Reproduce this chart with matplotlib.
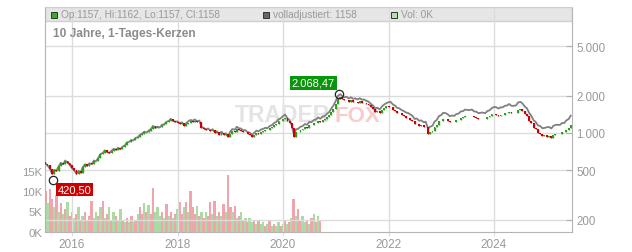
import matplotlib
matplotlib.use("Agg")
import matplotlib.pyplot as plt
import matplotlib.dates as mdates
from matplotlib.patches import Rectangle
from matplotlib.ticker import FixedLocator, FuncFormatter, NullLocator
import numpy as np
import pandas as pd

plt.rcParams['font.family'] = ['Liberation Sans', 'DejaVu Sans']

# semi-monthly closes (1st / 15th)
close_2015 = [565, 548, 515, 470, 505, 495, 540, 575, 560, 600, 575, 555]
close_2016 = [520, 500, 470, 495, 480, 530, 560, 545, 570, 560, 600, 590,
              630, 675, 690, 725, 700, 690, 720, 745, 735, 760, 740, 775]
close_2017 = [795, 840, 850, 880, 870, 910, 925, 965, 990, 1025, 1010, 1045,
              1080, 1140, 1100, 1125, 1110, 1165, 1175, 1230, 1250, 1300, 1255, 1235]
close_2018 = [1215, 1180, 1195, 1130, 1175, 1215, 1250, 1230, 1260, 1220, 1235, 1100,
              1080, 1050, 1065, 1030, 1050, 1000, 1010, 970, 1005, 960, 975, 920]
close_2019 = [985, 1035, 1020, 1080, 1050, 1045, 1010, 1015, 975, 970, 930, 965,
              1005, 990, 1025, 1035, 1060, 1050, 1095, 1110, 1160, 1180, 1240, 1260]
close_2020 = [1290, 1330, 1240, 1200, 1090, 930, 1010, 1020, 1060, 1070, 1115, 1100,
              1160, 1150, 1200, 1210, 1260, 1230, 1280, 1290, 1350, 1390, 1490, 1570]
close_2021 = [1720, 1880, 1940, 1870, 1830, 1850, 1790, 1830, 1780, 1790, 1760, 1800,
              1750, 1760, 1710, 1690, 1620, 1570, 1490, 1510, 1460, 1540, 1600, 1640]
close_2022 = [1610, 1620, 1540, 1510, 1450, 1440, 1390, 1370, 1330, 1320, 1280, 1250,
              1180, 1190, 1140, 1150, 1110, 1120, 990, 1020, 1040, 1120, 1160, 1240]
close_2023 = [1250, 1300, 1290, 1260, 1220, 1235, 1225, 1270, 1280, 1330, 1340, 1380,
              1370, 1365, 1380, 1335, 1325, 1290, 1300, 1305, 1290, 1340, 1360, 1410]
close_2024 = [1410, 1405, 1370, 1400, 1400, 1440, 1450, 1490, 1440, 1440, 1450, 1530,
              1550, 1510, 1420, 1380, 1260, 1200, 1100, 1070, 1000, 990, 950, 955]
close_2025 = [935, 940, 915, 960, 975, 980, 975, 1010, 1010, 1060, 1090, 1158]

first_open = 580

# yearly factor of the fully adjusted ("volladjustiert") line
adj_years = [2015, 2016, 2017, 2018, 2019, 2020, 2021, 2022, 2023, 2024, 2025]
adj_factor = [1.00, 1.00, 1.00, 1.02, 1.04, 1.06, 1.06, 1.10, 1.12, 1.15, 1.19]

# volume in thousands, semi-monthly, until Sep 2020
vol_k = [10, 7, 10.5, 8, 6, 9, 5, 7, 4.5, 5.5,
         7.3, 4, 5, 3.5, 4.5, 6, 3, 4, 5, 3,
         4, 7.5, 3.5, 5, 4, 6, 7.5, 3.5, 4.5, 6,
         3, 5, 4, 3, 5.5, 3, 2.5, 3.5, 2.5, 4,
         2.5, 3, 4.5, 6, 4.5, 7, 5, 6.5, 4.5, 10.7,
         5, 6, 4, 5, 3.5, 6.8, 4, 5, 3.5, 4.5,
         5.5, 7.3, 4.5, 6, 7.3, 5, 10, 6, 4.5, 6.3,
         4, 5, 3.5, 5, 4, 7.3, 4.5, 7.5, 4, 5,
         4, 6.8, 5, 14, 6, 5, 6.3, 3.5, 4, 5,
         3, 3.5, 2.5, 3.5, 2.5, 3, 2, 3, 2, 2.5,
         1.5, 2, 3, 1.5, 2, 1.5, 2.5, 1.5, 2, 3,
         2, 2.5, 3.5, 8, 4, 5.5, 3, 4, 2.5, 3,
         2, 3.5, 4.5, 2.5, 4, 3]
vol_side = ("rgrrgrgrgr" "grrgrgrgrg" "rrggrgrgrg" "rgrggrgrgr" "grgrrgrgrr"
            "gggrgrgrgr" "grrgrgrrrg" "rgrgrrgrgr" "grgrrgrgrg" "rgrggrgrgg"
            "rgrgrggrgr" "grgrgrrggr" "grgrgr")

low_date, low_value = "2015-08-24", 420.50
high_date, high_value = "2021-01-25", 2068.47

years = [2016, 2018, 2020, 2022, 2024]
price_ticks = [200, 500, 1000, 2000, 5000]
vol_ticks = [0, 5, 10, 15]

closes = np.array(close_2015 + close_2016 + close_2017 + close_2018 + close_2019 + close_2020
                  + close_2021 + close_2022 + close_2023 + close_2024 + close_2025, dtype=float)
dates = pd.date_range("2015-07-01", periods=len(closes), freq="SMS")
xs = mdates.date2num(dates.to_pydatetime())
opens = np.concatenate([[first_open], closes[:-1]])
up = closes >= opens
factor = dict(zip(adj_years, adj_factor))
adjusted = closes * np.array([factor[d.year] for d in dates])

GREEN = "#2f9e1f"
RED = "#cc0000"
TXT = "#999999"

W, H = 632, 253


def px(x, y):
    return x / W, 1 - y / H


fig = plt.figure(figsize=(W / 100, H / 100), dpi=100)
pos = [45 / W, 20 / H, 527 / W, 225 / H]
axv = fig.add_axes(pos)
ax = fig.add_axes(pos, sharex=axv)
ax.patch.set_alpha(0)

# volume
vx = xs[:len(vol_k)]
vcol = ["#f0a4ac" if s == "r" else "#aadba2" for s in vol_side[:len(vol_k)]]
axv.bar(vx, np.array(vol_k) * 1000, width=17, color=vcol, linewidth=0, align="center")
axv.set_ylim(0, 15000 * 225 / 61.5)
axv.set_yticks([v * 1000 for v in vol_ticks])
axv.set_yticklabels([f"{v}K" for v in vol_ticks])
axv.tick_params(axis="y", length=0, labelcolor=TXT, labelsize=8.2, pad=2)
axv.tick_params(axis="x", bottom=False, labelbottom=False)
for s in axv.spines.values():
    s.set_visible(False)

# legend bar at top of plot
axv.add_patch(Rectangle((0, 1 - 14 / 225), 1, 14 / 225, transform=axv.transAxes,
                        fc="#e6e6e6", ec="#cfcfcf", lw=1, zorder=0.5))

# price
ax.set_yscale("log")
ax.plot(xs, adjusted, color="#808080", lw=1.3, zorder=2)
cols = [GREEN if u else RED for u in up]
ax.bar(xs, np.abs(closes - opens), bottom=np.minimum(opens, closes), width=13,
       color=cols, linewidth=0, zorder=3)
ax.vlines(xs, np.minimum(opens, closes), np.maximum(opens, closes),
          colors=cols, lw=1.0, zorder=3)

ax.set_ylim(10 ** 2.2016, 10 ** 4.016)
ax.set_xlim(mdates.datestr2num("2015-06-28"), mdates.datestr2num("2025-06-24"))
ax.yaxis.set_major_locator(FixedLocator(price_ticks))
ax.yaxis.set_minor_locator(NullLocator())
ax.yaxis.set_major_formatter(FuncFormatter(lambda v, _: f"{int(v):,}".replace(",", ".")))
ax.yaxis.tick_right()
ax.tick_params(axis="y", which="major", direction="in", length=4, color="#b0b0b0",
               labelcolor=TXT, labelsize=8.3, pad=3)
ax.set_xticks([mdates.datestr2num(f"{y}-01-01") for y in years])
ax.set_xticklabels([str(y) for y in years])
ax.tick_params(axis="x", direction="out", length=3, color="#dcdcdc",
               labelcolor=TXT, labelsize=8.5, pad=1)
ax.grid(True, color="#dcdcdc", lw=1)
ax.set_axisbelow(True)
for side in ["left", "bottom", "right"]:
    ax.spines[side].set_color("#b4b4b4")
ax.spines["top"].set_color("#cfcfcf")

# watermark
ax.text(*px(235, 116), "TRADER", transform=fig.transFigure, fontsize=16.5, fontweight="bold",
        color="#e4e4e4", va="center", ha="left", zorder=1)
ax.text(*px(334, 116), "FOX", transform=fig.transFigure, fontsize=16, fontweight="bold",
        color="#f9cccc", va="center", ha="left", zorder=1)

# extremes
lx = mdates.datestr2num(low_date)
hx = mdates.datestr2num(high_date)
ax.plot([lx], [low_value], "o", mfc="none", mec="#222222", ms=6, mew=0.9, zorder=5)
ax.plot([hx], [high_value], "o", mfc="none", mec="#222222", ms=6, mew=0.9, zorder=5)
ax.annotate(f"{low_value:.2f}".replace(".", ","), xy=(lx, low_value), xytext=(15.5, -7.2),
            textcoords="offset points", ha="center", va="center", color="white", fontsize=8,
            bbox=dict(boxstyle="square,pad=0.15", fc=RED, ec="none"), zorder=6)
ax.annotate(f"{high_value:,.2f}".replace(",", "X").replace(".", ",").replace("X", "."),
            xy=(hx, high_value), xytext=(-18.7, 7.9),
            textcoords="offset points", ha="center", va="center", color="white", fontsize=8,
            bbox=dict(boxstyle="square,pad=0.15", fc="#0a960a", ec="none"), zorder=6)

# title and legend row
fig.text(*px(53, 34), "10 Jahre, 1-Tages-Kerzen", fontsize=8.6, fontweight="bold",
         color="#8c8c8c", va="center", ha="left")
legend = [(51, "#3aaa2a", "Op:1157, Hi:1162, Lo:1157, Cl:1158"),
          (263, "#666666", "volladjustiert: 1158"),
          (391, "#b4e2ac", "Vol: 0K")]
for lxp, col, label in legend:
    fig.add_artist(Rectangle(px(lxp, 18.5), 6 / W, 6 / H, transform=fig.transFigure,
                             fc=col, ec="#333333", lw=0.7))
    fig.text(*px(lxp + 10, 15.5), label, fontsize=7.3, color=TXT, va="center", ha="left")

fig.savefig("out.png", dpi=100)
